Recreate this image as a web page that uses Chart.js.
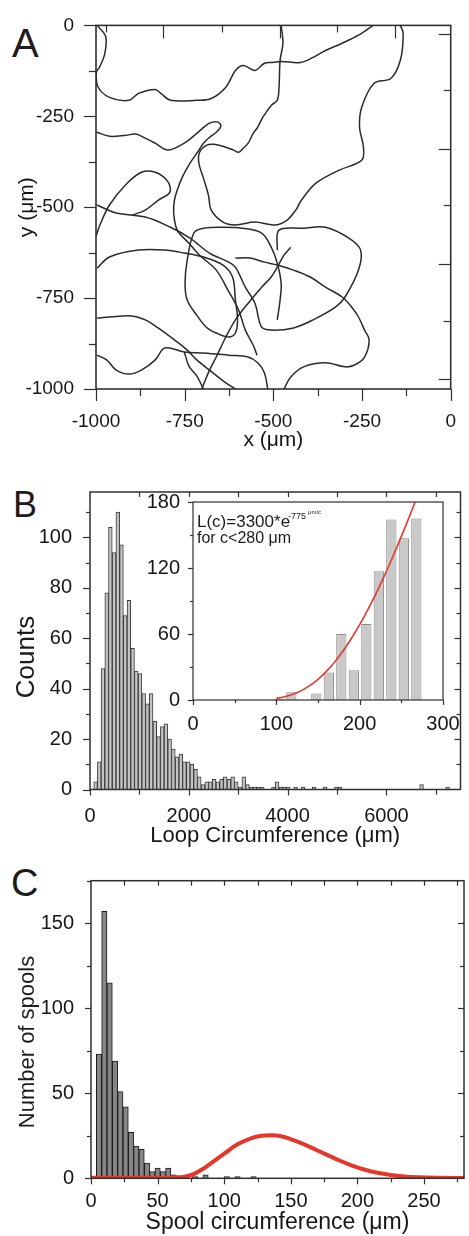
<!DOCTYPE html>
<html><head><meta charset="utf-8">
<script src="https://cdn.jsdelivr.net/npm/chart.js@4.4.1/dist/chart.umd.min.js"></script>
<style>
html,body{margin:0;padding:0;background:#fff;}
body{width:469px;height:1236px;position:relative;overflow:hidden;font-family:"Liberation Sans",Arial,sans-serif;color:#1c1c1c;}
canvas{position:absolute;}
.t{position:absolute;white-space:nowrap;line-height:1;}
.rot{position:absolute;text-align:center;transform:rotate(-90deg);white-space:nowrap;}
</style></head><body>
<div class="t" style="left:12px;top:23px;font-size:40px">A</div>
<div class="t" style="left:13px;top:487px;font-size:36px">B</div>
<div class="t" style="left:11px;top:864px;font-size:38px">C</div>
<canvas id="cA" width="469" height="460" style="left:0;top:0"></canvas>
<canvas id="cB" width="469" height="385" style="left:0;top:470px"></canvas>
<canvas id="cBi" width="325" height="245" style="left:140px;top:485px"></canvas>
<canvas id="cC" width="469" height="381" style="left:0;top:855px"></canvas>
<div class="rot" style="left:-75px;top:642px;width:200px;height:30px;line-height:30px;font-size:26px">Counts</div>
<div class="rot" style="left:-73px;top:1027px;width:200px;height:30px;line-height:30px;font-size:22px">Number of spools</div>
<div class="t" style="left:197px;top:513px;font-size:17px">L(c)=3300*e</div>
<div class="t" style="left:288px;top:512px;font-size:9px">-775</div>
<div class="t" style="left:308px;top:509px;font-size:6px">μm/c</div>
<div class="t" style="left:197px;top:530px;font-size:16px">for c&lt;280 μm</div>
<script>
// ---------- Panel A: trajectories (x, y in µm) ----------
const mapTickLabels = [-1000, -750, -500, -250, 0];
const mapMinorTicks = [-875, -625, -375, -125];
const mapTopMajor = [-810, -481, -156];
const mapTopMinor = [-973, -646, -320];
const mapRightMajor = [-23, -341, -655, -972];
const mapRightMinor = [-179, -494, -812];

const trail1 = [[-997,0],[-973,-30],[-975,-77],[-989,-113],[-999,-129],[-995,-168],[-962,-198],[-907,-206],[-880,-187],[-833,-176],[-817,-187],[-790,-206],[-716,-206],[-675,-201],[-634,-170],[-607,-124],[-585,-110],[-552,-124],[-525,-104],[-503,-102],[-478,-99],[-424,-102],[-388,-88],[-353,-69],[-306,-49],[-260,-27],[-219,0]];
const trail2 = [[-478,0],[-473,-49],[-481,-96],[-484,-170],[-489,-206],[-506,-220],[-530,-253],[-544,-280],[-557,-297],[-571,-324],[-585,-338],[-598,-349],[-612,-343],[-634,-335],[-667,-327],[-689,-330],[-708,-349],[-710,-379],[-697,-420],[-683,-467],[-675,-508],[-642,-541],[-607,-549],[-552,-541],[-497,-549],[-462,-536],[-437,-508],[-421,-481],[-380,-434],[-314,-398],[-251,-371],[-246,-335],[-257,-280],[-251,-225],[-216,-159],[-169,-146],[-142,-96],[-134,-22],[-142,0]];
const trail3 = [[-999,-293],[-962,-305],[-915,-302],[-888,-299],[-861,-310],[-833,-324],[-798,-343],[-751,-324],[-716,-297],[-680,-269],[-656,-266],[-648,-277],[-661,-294],[-680,-308],[-697,-324],[-716,-352],[-735,-379],[-757,-418],[-771,-453],[-779,-481],[-781,-516],[-771,-563],[-738,-599],[-708,-632],[-661,-673],[-628,-728],[-598,-783],[-579,-838],[-557,-879],[-546,-907]];
const trail4 = [[-1000,-580],[-989,-549],[-962,-494],[-915,-437],[-872,-404],[-833,-404],[-798,-429],[-792,-459],[-825,-481],[-861,-508],[-899,-522]];
const trail5 = [[-997,-494],[-943,-516],[-861,-527],[-790,-555],[-735,-585],[-680,-626],[-626,-651],[-607,-665],[-579,-720],[-552,-764],[-533,-830],[-506,-838],[-443,-832],[-388,-810],[-325,-775],[-298,-747],[-260,-673],[-254,-618],[-287,-585],[-353,-555],[-415,-558],[-484,-563],[-489,-618]];
const trail6 = [[-997,-668],[-962,-637],[-880,-618],[-806,-618],[-751,-626],[-697,-637],[-642,-659],[-615,-692],[-607,-755],[-601,-810],[-607,-846],[-626,-857],[-661,-846],[-689,-830],[-716,-797],[-743,-755],[-749,-709],[-743,-646],[-724,-571],[-697,-558],[-642,-555],[-587,-558],[-533,-571],[-506,-610],[-489,-654],[-478,-709],[-481,-755],[-489,-810]];
const trail7 = [[-997,-805],[-962,-802],[-899,-799],[-861,-810],[-825,-832],[-779,-865],[-743,-893],[-716,-920],[-680,-948],[-634,-983],[-607,-1000]];
const trail8 = [[-997,-907],[-970,-920],[-943,-948],[-907,-959],[-872,-948],[-833,-920],[-806,-887],[-751,-898],[-697,-901],[-626,-907],[-571,-912],[-544,-928],[-525,-956],[-516,-1000]];
const trail9 = [[-470,-1000],[-451,-967],[-415,-939],[-353,-928],[-298,-939],[-271,-934],[-243,-912],[-230,-865],[-243,-838],[-260,-802],[-279,-775],[-306,-747],[-353,-720],[-396,-692],[-443,-673],[-489,-659],[-525,-651],[-566,-640],[-607,-640]];
const trail10 = [[-702,-1000],[-680,-948],[-661,-912],[-634,-857],[-607,-810],[-571,-764],[-533,-720],[-506,-692],[-489,-665],[-470,-632],[-451,-610]];
const trail11 = [[-751,-898],[-738,-937],[-716,-964],[-697,-1000]];
const trails = [trail1, trail2, trail3, trail4, trail5, trail6, trail7, trail8, trail9, trail10, trail11];

// ---------- Panel B: loop circumference histogram ----------
const loopBinStart = 0;
const loopBinWidth = 75;
const loopCounts = [0,3,11,48,78,104,94,110,97,69,
  75,56,47,46,38,34,38,27,21,25,
  26,20,16,13,14,11,11,10,8,5,
  2,3,3,4,3,4,5,4,5,3,
  1,5,2,1,1,1,1,0,0,1,
  3,1,1,1,0,1,0,1,0,0,
  1,0,0,1,0,0,1,1,0,0,
  0,0,0,0,0,0,0,0,0,0,
  0,0,0,0,0,0,0,0,0,2,
  0,0,0,0,0,0,1,0,0,0];
const loopXLabels = [0, 2000, 4000, 6000];
const loopYLabels = [0, 20, 40, 60, 80, 100];

// inset
const insetCenters = [103,118,133,148,163,178,193,208,223,238,253,268];
const insetCounts  = [1,7,0,6,25,60,27,69,117,164,147,165];
const insetFitC = [100,110,120,130,140,150,160,170,180,190,200,210,220,230,240,250,260,270];
const insetFitL = [1.4,2.9,5.2,8.5,13,18.8,26,34.5,44.5,55.9,68.5,82.4,97.4,113.5,130.7,148.7,167.4,187];
const insetXLabels = [0, 100, 200, 300];
const insetYLabels = [0, 60, 120, 180];

// ---------- Panel C: spool circumference ----------
const spoolBinWidth = 4;
const spoolCounts = [0,73,157,115,69,51,42,27,19,17,
  9,4,6,4,6,2,0,0,0,1,
  0,2,0,0,0,1,0,1,0,0,1];
const spoolFitX = [0,20,40,55,62,70,77,85,93,100,110,120,128,136,145,155,165,175,185,195,205,215,225,235,245,260,280];
const spoolFitY = [0.3,0.3,0.3,0.3,0.5,1,2.5,6,10.5,14.5,20,23.5,25,25.3,24.3,21.5,18.2,14.5,11,7.8,5.2,3.3,2,1.1,0.6,0.3,0.2];
const spoolXLabels = [0, 50, 100, 150, 200, 250];
const spoolYLabels = [0, 50, 100, 150];

// ---------- helpers ----------
const FONT = '"Liberation Sans", Arial, Helvetica, sans-serif';
const INK = '#161616';
const AXIS = '#303030';
function steps(a, b, s) { const r = []; for (let v = a; v <= b + 1e-9; v += s) r.push(Math.round(v * 1000) / 1000); return r; }

function marksPlugin(spec) {
  return {
    id: 'marks',
    beforeDraw(chart) {
      if (!spec.fill) return;
      const c = chart.chartArea, ctx = chart.ctx;
      ctx.save(); ctx.fillStyle = spec.fill;
      ctx.fillRect(c.left, c.top, c.right - c.left, c.bottom - c.top);
      ctx.restore();
    },
    afterDraw(chart) {
      const c = chart.chartArea, ctx = chart.ctx;
      ctx.save();
      ctx.strokeStyle = AXIS; ctx.lineWidth = 1.2;
      spec.sides.forEach(s => {
        const sc = chart.scales[s.scale];
        [[s.major || [], s.majorLen], [s.minor || [], s.minorLen]].forEach(([vals, len]) => {
          vals.forEach(v => {
            const p = Math.round(sc.getPixelForValue(v)) + 0.5;
            const d = s.out ? len : -len;
            ctx.beginPath();
            if (s.side === 'bottom') { ctx.moveTo(p, c.bottom); ctx.lineTo(p, c.bottom + d); }
            else if (s.side === 'top') { ctx.moveTo(p, c.top); ctx.lineTo(p, c.top - d); }
            else if (s.side === 'left') { ctx.moveTo(c.left, p); ctx.lineTo(c.left - d, p); }
            else { ctx.moveTo(c.right, p); ctx.lineTo(c.right + d, p); }
            ctx.stroke();
          });
        });
      });
      ctx.lineWidth = spec.frameWidth || 1.5;
      ctx.strokeRect(c.left, c.top, c.right - c.left, c.bottom - c.top);
      ctx.restore();
    }
  };
}

function axis(o) {
  return {
    type: 'linear', min: o.min, max: o.max, offset: false,
    grid: { display: false }, border: { display: false },
    afterBuildTicks: s => { s.ticks = o.labels.map(v => ({ value: v })); },
    afterFit: s => { if (o.width != null) s.width = o.width; if (o.height != null) s.height = o.height; },
    ticks: { font: { family: FONT, size: o.size }, color: INK, padding: o.pad, maxRotation: 0, minRotation: 0, autoSkip: false, callback: v => String(v) },
    title: o.title ? { display: true, text: o.title, font: { family: FONT, size: o.titleSize }, color: INK, padding: o.titlePad } : { display: false }
  };
}
const base = (pad) => ({
  responsive: false, animation: false, events: [],
  layout: { padding: pad },
  plugins: { legend: { display: false }, tooltip: { enabled: false } }
});

// ---------- Chart A ----------
new Chart(document.getElementById('cA'), {
  type: 'scatter',
  data: { datasets: trails.map(t => ({
    data: t.map(([x, y]) => ({ x, y })), showLine: true, borderColor: '#2a2a2a', borderWidth: 1.5,
    pointRadius: 0, tension: 0.35, fill: false })) },
  options: Object.assign(base({ top: 25, right: 7, left: 0, bottom: 0 }), {
    scales: {
      x: axis({ min: -1000, max: 0, labels: mapTickLabels, size: 19, pad: 13, height: 71, title: 'x (μm)', titleSize: 21, titlePad: { top: 0, bottom: 7 } }),
      y: axis({ min: -1000, max: 0, labels: mapTickLabels, size: 19, pad: 14, width: 96, title: 'y (μm)', titleSize: 21, titlePad: { top: 15, bottom: 0 } })
    }
  }),
  plugins: [marksPlugin({ frameWidth: 1.6, sides: [
    { scale: 'x', side: 'bottom', out: true, major: mapTickLabels, majorLen: 12, minor: mapMinorTicks, minorLen: 7 },
    { scale: 'y', side: 'left', out: true, major: mapTickLabels, majorLen: 12, minor: mapMinorTicks, minorLen: 7 },
    { scale: 'x', side: 'top', out: false, major: mapTopMajor, majorLen: 13, minor: mapTopMinor, minorLen: 7 },
    { scale: 'y', side: 'right', out: false, major: mapRightMajor, majorLen: 12, minor: mapRightMinor, minorLen: 7 }
  ] })]
});

// ---------- Chart B main ----------
new Chart(document.getElementById('cB'), {
  type: 'bar',
  data: { datasets: [{
    data: loopCounts.map((c, i) => ({ x: loopBinStart + loopBinWidth * (i + 0.5), y: c })),
    backgroundColor: '#c4c4c4', borderColor: '#3a3a3a', borderWidth: 1, barPercentage: 1, categoryPercentage: 1 }] },
  options: Object.assign(base({ top: 18, right: 8.5, left: 0, bottom: 0 }), {
    scales: {
      x: axis({ min: 0, max: 7500, labels: loopXLabels, size: 20, pad: 6.5, height: 65.5, title: 'Loop Circumference (μm)', titleSize: 22, titlePad: { top: 0, bottom: 6 } }),
      y: axis({ min: 0, max: 118, labels: loopYLabels, size: 20, pad: 10, width: 90 })
    }
  }),
  plugins: [marksPlugin({ frameWidth: 1.5, sides: [
    { scale: 'x', side: 'bottom', out: true, major: steps(0, 7000, 2000), majorLen: 6, minor: steps(1000, 7000, 2000), minorLen: 5 },
    { scale: 'y', side: 'left', out: true, major: steps(0, 100, 20), majorLen: 7, minor: steps(10, 110, 20), minorLen: 4 },
    { scale: 'x', side: 'top', out: false, major: steps(1000, 7000, 1000), majorLen: 5 },
    { scale: 'y', side: 'right', out: false, major: steps(20, 100, 20), majorLen: 6, minor: steps(10, 110, 20), minorLen: 4 }
  ] })]
});

// ---------- Chart B inset ----------
new Chart(document.getElementById('cBi'), {
  type: 'bar',
  data: { datasets: [
    { type: 'line', data: insetFitC.map((c, i) => ({ x: c, y: insetFitL[i] })), borderColor: '#e23a2e', borderWidth: 1.6,
      pointRadius: 0, tension: 0.4, fill: false, order: 0 },
    { data: insetCenters.map((c, i) => ({ x: c, y: insetCounts[i] })), backgroundColor: '#c9c9c9', borderColor: '#8c8c8c',
      borderWidth: 1, barPercentage: 0.82, categoryPercentage: 1, order: 1 }
  ] },
  options: Object.assign(base({ top: 15, right: 22, left: 0, bottom: 0 }), {
    scales: {
      x: axis({ min: 0, max: 300, labels: insetXLabels, size: 20, pad: 4, height: 30 }),
      y: axis({ min: 0, max: 180, labels: insetYLabels, size: 20, pad: 5, width: 53 })
    }
  }),
  plugins: [marksPlugin({ fill: '#ffffff', frameWidth: 1.2, sides: [
    { scale: 'x', side: 'bottom', out: true, major: insetXLabels, majorLen: 5, minor: steps(50, 250, 100), minorLen: 3 },
    { scale: 'y', side: 'left', out: true, major: insetYLabels, majorLen: 5, minor: steps(30, 150, 60), minorLen: 3 }
  ] })]
});

// ---------- Chart C ----------
new Chart(document.getElementById('cC'), {
  type: 'bar',
  data: { datasets: [
    { type: 'line', data: spoolFitX.map((x, i) => ({ x, y: spoolFitY[i] })), borderColor: '#e4372c', borderWidth: 4,
      pointRadius: 0, tension: 0.4, fill: false, order: 0 },
    { data: spoolCounts.map((c, i) => ({ x: spoolBinWidth * (i + 0.5), y: c })), backgroundColor: '#868686', borderColor: '#1a1a1a',
      borderWidth: 1, barPercentage: 1, categoryPercentage: 1, order: 1 }
  ] },
  options: Object.assign(base({ top: 25.7, right: 5, left: 0, bottom: 0 }), {
    scales: {
      x: axis({ min: 0, max: 280, labels: spoolXLabels, size: 20, pad: 3, height: 57.7, title: 'Spool circumference (μm)', titleSize: 23, titlePad: { top: 0, bottom: 0 } }),
      y: axis({ min: 0, max: 175, labels: spoolYLabels, size: 20, pad: 9, width: 91 })
    }
  }),
  plugins: [marksPlugin({ frameWidth: 1.5, sides: [
    { scale: 'x', side: 'bottom', out: true, major: spoolXLabels, majorLen: 6, minor: steps(25, 275, 50), minorLen: 4 },
    { scale: 'y', side: 'left', out: true, major: spoolYLabels, majorLen: 6, minor: steps(25, 175, 50), minorLen: 4 },
    { scale: 'x', side: 'top', out: false, major: steps(25, 275, 25), majorLen: 5 },
    { scale: 'y', side: 'right', out: false, major: [50, 100, 150], majorLen: 6, minor: [25, 75, 125], minorLen: 4 }
  ] })]
});
</script>
</body></html>
